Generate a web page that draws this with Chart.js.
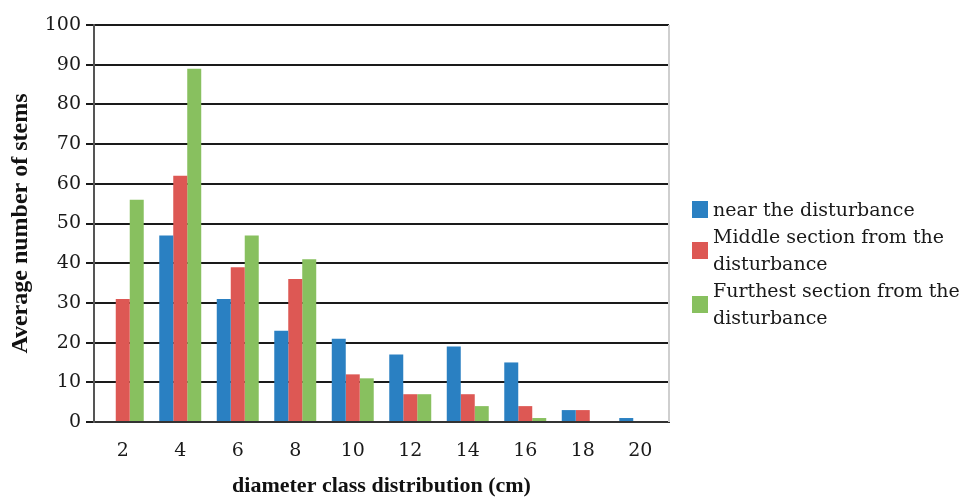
<!DOCTYPE html>
<html>
<head>
<meta charset="utf-8">
<script src="https://cdn.jsdelivr.net/npm/chart.js@4/dist/chart.umd.min.js"></script>
<style>
  html, body { margin: 0; padding: 0; background: #fff; }
  #wrap { position: relative; width: 967px; height: 500px; }
  #legend {
    position: absolute; left: 692px; top: 196px;
    font-family: "DejaVu Serif", serif; font-size: 19px; line-height: 27px; color: #1a1a1a;
  }
  .item { display: flex; align-items: center; }
  .sw { width: 16px; height: 17px; margin-right: 5px; flex: none; }
</style>
</head>
<body>
<div id="wrap">
  <canvas id="c" width="967" height="500"></canvas>
  <div id="legend"></div>
</div>
<script>
// Diameter classes (cm)
const categories = ['2', '4', '6', '8', '10', '12', '14', '16', '18', '20'];

// Average number of stems per diameter class
const nearValues     = [0, 47, 31, 23, 21, 17, 19, 15, 3, 1];
const middleValues   = [31, 62, 39, 36, 12, 7, 7, 4, 3, 0];
const furthestValues = [56, 89, 47, 41, 11, 7, 4, 1, 0, 0];

const seriesNames = [
  ['near the disturbance'],
  ['Middle section from the', 'disturbance'],
  ['Furthest section from the', 'disturbance']
];
const seriesColors = ['#2a80c2', '#dd5854', '#88c05f'];

const yTicks = [0, 10, 20, 30, 40, 50, 60, 70, 80, 90, 100];

const datasets = [nearValues, middleValues, furthestValues].map((vals, i) => ({
  label: seriesNames[i].join(' '),
  data: vals,
  backgroundColor: seriesColors[i],
  borderWidth: 0,
  categoryPercentage: 0.73,
  barPercentage: 1.0
}));

// Light frame line on the right edge of the plot area
const rightFrame = {
  id: 'rightFrame',
  afterDraw(chart) {
    const { ctx, chartArea } = chart;
    ctx.save();
    ctx.strokeStyle = '#cfcfcf';
    ctx.lineWidth = 2;
    ctx.beginPath();
    ctx.moveTo(chartArea.right, chartArea.top);
    ctx.lineTo(chartArea.right, chartArea.bottom);
    ctx.stroke();
    ctx.restore();
  }
};

const tickFont = { family: '"DejaVu Serif", serif', size: 19 };

new Chart(document.getElementById('c'), {
  type: 'bar',
  data: { labels: categories, datasets },
  plugins: [rightFrame],
  options: {
    responsive: false,
    devicePixelRatio: 1,
    animation: false,
    layout: { padding: { left: 0, right: 298, top: 25, bottom: 0 } },
    plugins: {
      legend: { display: false },
      tooltip: { enabled: false }
    },
    scales: {
      x: {
        grid: { display: false, drawTicks: false },
        border: { display: true, color: '#333', width: 2 },
        ticks: { color: '#1a1a1a', font: tickFont, padding: 18, maxRotation: 0 },
        title: {
          display: true,
          text: 'diameter class distribution (cm)',
          color: '#111',
          font: { family: '"Liberation Serif", serif', size: 22, weight: 'bold' },
          padding: { top: 0, bottom: 0 }
        },
        afterFit(scale) { scale.height = 78; }
      },
      y: {
        min: 0,
        max: 100,
        afterBuildTicks(scale) { scale.ticks = yTicks.map(v => ({ value: v })); },
        grid: { color: '#1a1a1a', lineWidth: 2, tickLength: 8, drawTicks: true },
        border: { display: true, color: '#555', width: 2 },
        ticks: { color: '#1a1a1a', font: tickFont, padding: 5 },
        title: {
          display: true,
          text: 'Average number of stems',
          color: '#111',
          font: { family: '"Liberation Serif", serif', size: 24, weight: 'bold' },
          padding: { top: 6, bottom: 0 }
        },
        afterFit(scale) { scale.width = 94; }
      }
    }
  }
});

// Legend with wrapped entries
const legend = document.getElementById('legend');
seriesNames.forEach((lines, i) => {
  const item = document.createElement('div');
  item.className = 'item';
  const sw = document.createElement('div');
  sw.className = 'sw';
  sw.style.background = seriesColors[i];
  const txt = document.createElement('div');
  txt.innerHTML = lines.join('<br>');
  item.appendChild(sw);
  item.appendChild(txt);
  legend.appendChild(item);
});
</script>
</body>
</html>
